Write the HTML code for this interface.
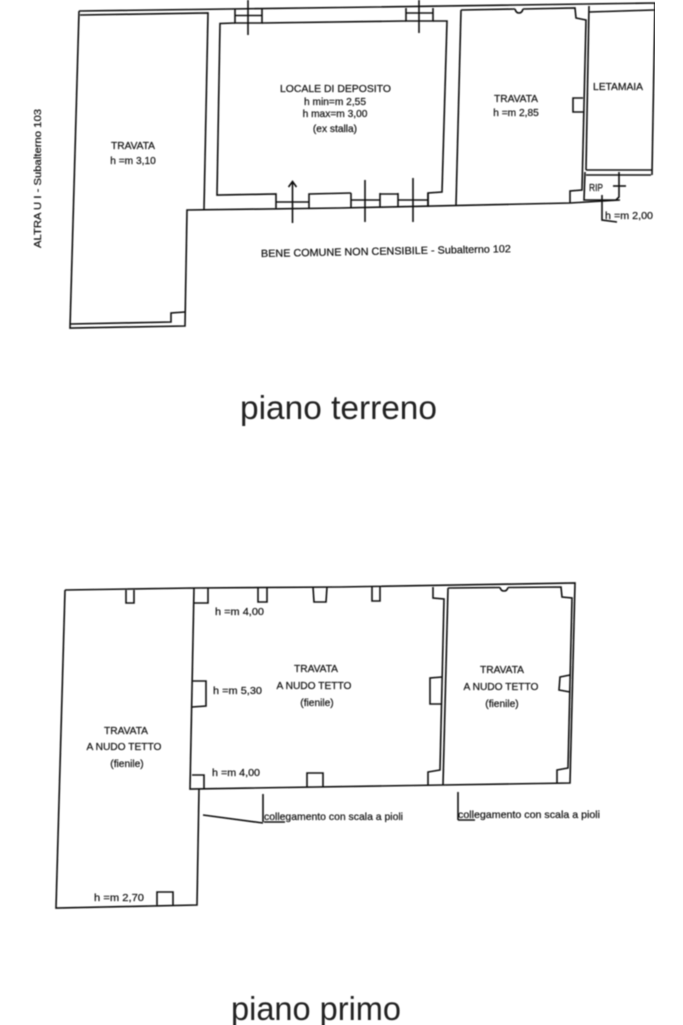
<!DOCTYPE html>
<html><head><meta charset="utf-8"><style>
html,body{margin:0;padding:0;background:#fff}
svg{display:block}
text{font-family:"Liberation Sans",sans-serif;fill:#111;stroke:#111;stroke-width:.2}
.s{font-size:10.2px;text-anchor:middle}
.l{font-size:10.4px}
.b{font-size:33.4px;fill:#222;stroke:none}
</style></head><body>
<svg width="683" height="1025" viewBox="0 0 683 1025" xmlns="http://www.w3.org/2000/svg">
<defs><filter id="f" x="0" y="0" width="100%" height="100%"><feGaussianBlur stdDeviation="0.4"/></filter></defs>
<rect width="683" height="1025" fill="#fff"/>
<g filter="url(#f)">
<g fill="none" stroke="#111" stroke-width="1.6">
<!-- piano terreno: outer -->
<path d="M79 11L340 7.5L655 3L652 175"/>
<path d="M79 11L70 328L185 326L187 210L340 208L570 203L620 200"/>
<path d="M80 15L208 13L204 209"/>
<path d="M70 324L171 322V313L185 312"/>
<!-- central room -->
<path d="M235 23L220 23.5L217 195L276 194V208"/>
<path d="M309 208V194L351 193"/>
<path d="M380 194L398 194"/>
<path d="M262 23L406 21"/>
<path d="M433 21L447 21L442 192L428 193V207"/>
<!-- doors -->
<path d="M235 9V23H262V9M235 15.500H262"/>
<path d="M406 8V21H433V8M406 13H433"/>
<path d="M248 0V35M419 0V33"/>
<path d="M276 202H309"/>
<path d="M351 193V208M380 193V208M351 200H380"/>
<path d="M398 193V207M428 193V207M398 200H428"/>
<path d="M365 180V222M413 178V222"/>
<path d="M292.5 182V223M288.500 187L292.500 181.500L296.500 187"/>
<!-- right travata -->
<path d="M461 10L456 205"/>
<path d="M461 10L515 9M523 9L575 8L576 18L586 20L582 190L570 191V203"/>
<path d="M515 9Q516 13 519 13Q522 13 523 9"/>
<path d="M583 98L573 98V112L583 112"/>
<!-- letamaia -->
<path d="M589 6L586 170"/>
<path d="M589 12L654 10"/>
<path d="M586 170L652 170M586 175L651 175"/>
<path d="M585 172L584 200L616 200L619 197V172"/>
<path d="M613 186H626"/>
<path d="M602 195V220L617 222"/>
<!-- piano primo: left -->
<path d="M65 590L194 588L340 587L575 583L570 783L443 785L190 789L194 588"/>
<path d="M65 590L56 908L197 905L199 789"/>
<path d="M126 590V603H134V590"/>
<path d="M157 905V892H173V905"/>
<!-- notches -->
<path d="M194 603H208V588"/>
<path d="M258 587V602H267V587"/>
<path d="M313 587L314 602H326L327 587"/>
<path d="M372 587V601H380V587"/>
<path d="M193 681H206V706L192 707"/>
<path d="M192 775H204V789"/>
<path d="M307 787V773H323V787"/>
<!-- middle right wall -->
<path d="M433 587V598L444 599L440 770L428 772V785"/>
<path d="M442 677L430 678V704L441 704"/>
<!-- right room -->
<path d="M448 588L443 785"/>
<path d="M448 588L500 587.500M508 587.500L561 587L562 597L572 598L568 768L557 770V783"/>
<path d="M500 587.500Q501 591 504 591Q507 591 508 587.500"/>
<path d="M570 675L560 677L559 690L570 692"/>
<!-- leaders -->
<path d="M263 794V822M203 815L263 823"/>
<path d="M458 792V820"/>
<path d="M264 822H285M458 820H475"/>
</g>
<text class="l" transform="rotate(-90 41 248)" x="41" y="248" textLength="139" lengthAdjust="spacingAndGlyphs">ALTRA U I  -  Subalterno 103</text>
<text class="s" x="133" y="149">TRAVATA</text>
<text class="s" x="133" y="164">h =m 3,10</text>
<text class="l" x="280" y="92" textLength="111" lengthAdjust="spacingAndGlyphs">LOCALE DI DEPOSITO</text>
<text class="s" x="335" y="105">h min=m 2,55</text>
<text class="s" x="335" y="117">h max=m 3,00</text>
<text class="s" x="335" y="132">(ex stalla)</text>
<text class="s" x="516" y="102">TRAVATA</text>
<text class="s" x="516" y="116">h =m 2,85</text>
<text class="l" x="593" y="90" textLength="50" lengthAdjust="spacingAndGlyphs">LETAMAIA</text>
<text class="l" x="589" y="191" textLength="14" lengthAdjust="spacingAndGlyphs">RIP</text>
<text class="l" x="605" y="219" textLength="48" lengthAdjust="spacingAndGlyphs">h =m 2,00</text>
<text class="l" transform="rotate(-1.100 261 257)" x="261" y="257" textLength="250" lengthAdjust="spacingAndGlyphs">BENE COMUNE NON CENSIBILE - Subalterno 102</text>
<text class="b" x="240" y="419" textLength="197" lengthAdjust="spacingAndGlyphs">piano terreno</text>
<text class="s" x="126" y="734">TRAVATA</text>
<text class="s" x="124" y="750">A NUDO TETTO</text>
<text class="s" x="127" y="767">(fienile)</text>
<text class="s" x="316" y="672">TRAVATA</text>
<text class="s" x="314" y="689">A NUDO TETTO</text>
<text class="s" x="317" y="706">(fienile)</text>
<text class="s" x="502" y="673">TRAVATA</text>
<text class="s" x="501" y="690">A NUDO TETTO</text>
<text class="s" x="502" y="707">(fienile)</text>
<text class="l" x="215" y="615" textLength="49" lengthAdjust="spacingAndGlyphs">h =m 4,00</text>
<text class="l" x="213" y="694" textLength="49" lengthAdjust="spacingAndGlyphs">h =m 5,30</text>
<text class="l" x="212" y="776" textLength="48" lengthAdjust="spacingAndGlyphs">h =m 4,00</text>
<text class="l" x="94" y="901" textLength="50" lengthAdjust="spacingAndGlyphs">h =m 2,70</text>
<text class="l" x="264" y="820" textLength="139" lengthAdjust="spacingAndGlyphs">collegamento con scala a pioli</text>
<text class="l" x="458" y="818" textLength="142" lengthAdjust="spacingAndGlyphs">collegamento con scala a pioli</text>
<text class="b" x="231" y="1020" textLength="170" lengthAdjust="spacingAndGlyphs">piano primo</text>
</g>
</svg>
</body></html>
